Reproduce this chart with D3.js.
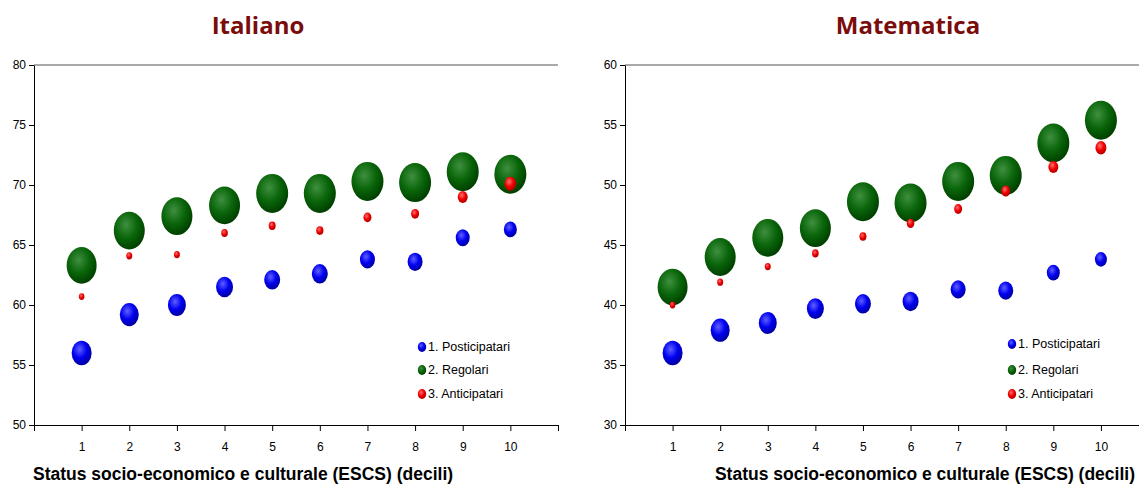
<!DOCTYPE html>
<html>
<head>
<meta charset="utf-8">
<script src="https://cdn.jsdelivr.net/npm/d3@7"></script>
<style>
  body { margin: 0; background: #fff; }
  svg { display: block; }
</style>
</head>
<body>
<svg id="chart" width="1139" height="486"></svg>
<script>
// deciles ESCS
var deciles = [1, 2, 3, 4, 5, 6, 7, 8, 9, 10];
var seriesNames = ["1. Posticipatari", "2. Regolari", "3. Anticipatari"];

// Italiano
var itaPost = [56.0, 59.2, 60.0, 61.5, 62.1, 62.6, 63.8, 63.6, 65.6, 66.3];
var itaReg  = [63.3, 66.2, 67.4, 68.3, 69.3, 69.3, 70.3, 70.2, 71.1, 70.9];
var itaAnt  = [60.7, 64.1, 64.2, 66.0, 66.6, 66.2, 67.3, 67.6, 69.0, 70.1];
var itaPostSize = [10, 9.5, 9, 8.5, 8, 8, 7.5, 7.5, 7, 6.5];
var itaRegSize  = [15, 15.5, 15.5, 15.5, 16, 16, 16, 16, 16, 16];
var itaAntSize  = [2.8, 3, 3, 3.3, 3.5, 3.6, 4, 4, 5, 5.8];

// Matematica
var matPost = [36.0, 37.9, 38.5, 39.7, 40.1, 40.3, 41.3, 41.2, 42.7, 43.8];
var matReg  = [41.5, 44.0, 45.6, 46.4, 48.6, 48.5, 50.3, 50.8, 53.5, 55.4];
var matAnt  = [40.0, 41.9, 43.2, 44.3, 45.7, 46.8, 48.0, 49.5, 51.5, 53.1];
var matPostSize = [10, 9.5, 9, 8.5, 8, 8, 7.5, 7.5, 6.5, 6];
var matRegSize  = [15, 15.5, 15.5, 15.5, 16, 16, 16, 16, 16, 16];
var matAntSize  = [2.8, 3, 3, 3.3, 3.5, 3.8, 4, 4.5, 5, 5.5];

var itaTicks = [50, 55, 60, 65, 70, 75, 80];
var matTicks = [30, 35, 40, 45, 50, 55, 60];

var COLORS = [
  { id: "gBlue", light: "#6060ff", mid: "#0000f0", dark: "#0000a0" },
  { id: "gGreen", light: "#3f8f3f", mid: "#0a660a", dark: "#004000" },
  { id: "gRed", light: "#ff7070", mid: "#f00000", dark: "#b00000" }
];

var svg = d3.select("#chart");
var defs = svg.append("defs");
COLORS.forEach(function(c) {
  var g = defs.append("radialGradient").attr("id", c.id)
    .attr("cx", "40%").attr("cy", "35%").attr("r", "65%");
  g.append("stop").attr("offset", "0%").attr("stop-color", c.light);
  g.append("stop").attr("offset", "55%").attr("stop-color", c.mid);
  g.append("stop").attr("offset", "100%").attr("stop-color", c.dark);
});

function drawPanel(opt) {
  var x = d3.scaleLinear().domain([0, opt.xMax]).range([opt.left, opt.right]);
  var y = d3.scaleLinear().domain([opt.ticks[0], opt.ticks[opt.ticks.length - 1]]).range([425, 65]);
  var r = d3.scaleLinear().domain([0, 1]).range([0, 1]);
  var g = svg.append("g");

  g.append("text")
    .attr("x", opt.titleX).attr("y", 34)
    .attr("text-anchor", "middle")
    .attr("font-family", "Open Sans, sans-serif")
    .attr("font-weight", "bold").attr("font-size", 24)
    .attr("fill", "#7a0c0c")
    .text(opt.title);

  // top frame line
  g.append("line")
    .attr("x1", opt.left).attr("x2", opt.right)
    .attr("y1", 65).attr("y2", 65)
    .attr("stroke", "#555").attr("stroke-width", 1);

  var yAxis = g.append("g")
    .attr("transform", "translate(" + opt.left + ",0)")
    .call(d3.axisLeft(y).tickValues(opt.ticks).tickSize(5).tickSizeOuter(0));
  var xAxis = g.append("g")
    .attr("transform", "translate(0,425)")
    .call(d3.axisBottom(x).tickValues(d3.range(0, Math.floor(opt.xMax) + 1)).tickSize(6).tickSizeOuter(0)
      .tickFormat(function(d) { return d >= 1 && d <= 10 ? d : ""; }));
  [xAxis, yAxis].forEach(function(a) {
    a.selectAll("path, line").attr("stroke", "#000");
    a.selectAll("text").attr("font-family", "Liberation Sans Narrow, Arial, sans-serif")
      .attr("font-size", 12).attr("fill", "#000");
  });
  xAxis.selectAll("text").attr("dy", "1.4em");

  g.append("text")
    .attr("x", opt.axisTitleX).attr("y", 480)
    .attr("text-anchor", opt.axisTitleAnchor)
    .attr("font-family", "Liberation Sans, Arial, sans-serif")
    .attr("font-weight", "bold").attr("font-size", 17.5)
    .text("Status socio-economico e culturale (ESCS) (decili)");

  // draw order: blue, green, red on top
  opt.series.forEach(function(s, si) {
    g.append("g").selectAll("ellipse")
      .data(deciles)
      .enter().append("ellipse")
      .attr("cx", function(d, i) { return x(d); })
      .attr("cy", function(d, i) { return y(s.values[i]); })
      .attr("rx", function(d, i) { return r(s.sizes[i]); })
      .attr("ry", function(d, i) { return r(s.sizes[i]) * 1.22; })
      .attr("fill", "url(#" + COLORS[si].id + ")");
  });

  var leg = g.append("g").selectAll("g")
    .data(seriesNames).enter().append("g")
    .attr("transform", function(d, i) { return "translate(" + opt.legendX + "," + (opt.legendY[i]) + ")"; });
  leg.append("ellipse").attr("rx", 4.2).attr("ry", 5)
    .attr("fill", function(d, i) { return "url(#" + COLORS[i].id + ")"; });
  leg.append("text").attr("x", 6).attr("dy", "0.35em")
    .attr("font-family", "Liberation Sans Narrow, Arial, sans-serif")
    .attr("font-size", 12.5)
    .text(function(d) { return d; });
}

drawPanel({
  title: "Italiano", titleX: 258, left: 34, right: 558, xMax: 11, ticks: itaTicks,
  axisTitleX: 33, axisTitleAnchor: "start",
  legendX: 422, legendY: [347, 370, 394],
  series: [
    { values: itaPost, sizes: itaPostSize },
    { values: itaReg, sizes: itaRegSize },
    { values: itaAnt, sizes: itaAntSize }
  ]
});

drawPanel({
  title: "Matematica", titleX: 908, left: 625, right: 1139, xMax: 10.8, ticks: matTicks,
  axisTitleX: 1135, axisTitleAnchor: "end",
  legendX: 1012, legendY: [344, 370, 394],
  series: [
    { values: matPost, sizes: matPostSize },
    { values: matReg, sizes: matRegSize },
    { values: matAnt, sizes: matAntSize }
  ]
});
</script>
</body>
</html>
